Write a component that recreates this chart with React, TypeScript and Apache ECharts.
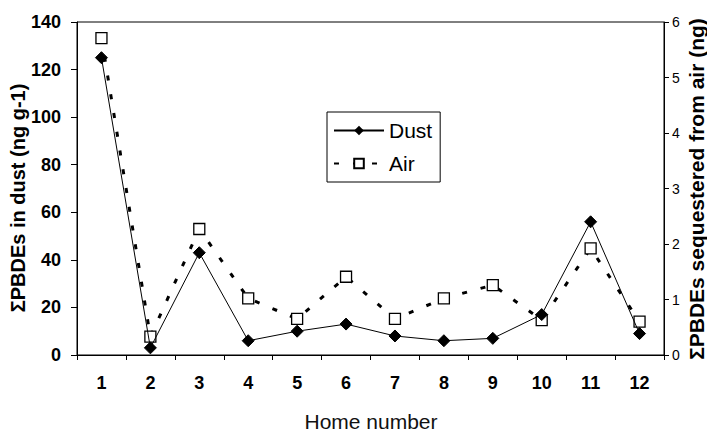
import React, { useEffect, useRef } from "react";
import * as echarts from "echarts";

const homes = ["1", "2", "3", "4", "5", "6", "7", "8", "9", "10", "11", "12"];
const dustValues = [125, 3, 43, 6, 10, 13, 8, 6, 7, 17, 56, 9];
const airValues = [5.71, 0.33, 2.27, 1.02, 0.65, 1.41, 0.65, 1.02, 1.26, 0.63, 1.92, 0.6];
const leftAxisRange = { min: 0, max: 140, interval: 20 };
const rightAxisRange = { min: 0, max: 6, interval: 1 };
const xTitle = "Home number";
const leftTitle = "ΣPBDEs in dust (ng g-1)";
const rightTitle = "ΣPBDEs sequestered from air (ng)";

const FONT = "'Liberation Sans', Arial, sans-serif";

export default function App() {
  const ref = useRef<HTMLDivElement>(null);
  useEffect(() => {
    if (!ref.current) return;
    const chart = echarts.init(ref.current, undefined, { renderer: "svg" });
    chart.setOption({
      animation: false,
      backgroundColor: "#ffffff",
      textStyle: { fontFamily: FONT, color: "#000" },
      grid: {
        left: 77,
        right: 43,
        top: 22,
        bottom: 77,
        show: true,
        borderColor: "#000",
        borderWidth: 1,
        backgroundColor: "transparent",
      },
      legend: {
        orient: "vertical",
        left: 327,
        top: 112,
        padding: [8, 8, 8, 6],
        borderColor: "#000",
        borderWidth: 1,
        backgroundColor: "#fff",
        itemWidth: 50,
        itemHeight: 12,
        itemGap: 12,
        textStyle: { fontFamily: FONT, fontSize: 21, color: "#000", lineHeight: 20 },
        data: ["Dust", "Air"],
      },
      xAxis: {
        type: "category",
        data: homes,
        boundaryGap: true,
        axisLine: { lineStyle: { color: "#000", width: 1 } },
        axisTick: { show: true, length: 5, lineStyle: { color: "#000" } },
        axisLabel: {
          fontFamily: FONT,
          fontSize: 18,
          fontWeight: "bold",
          color: "#000",
          margin: 19,
        },
        splitLine: { show: false },
      },
      yAxis: [
        {
          type: "value",
          min: leftAxisRange.min,
          max: leftAxisRange.max,
          interval: leftAxisRange.interval,
          axisLine: { show: true, lineStyle: { color: "#000", width: 1 } },
          axisTick: { show: true, length: 6, lineStyle: { color: "#000" } },
          axisLabel: {
            fontFamily: FONT,
            fontSize: 18,
            fontWeight: "bold",
            color: "#000",
            margin: 16,
          },
          splitLine: { show: false },
        },
        {
          type: "value",
          position: "right",
          min: rightAxisRange.min,
          max: rightAxisRange.max,
          interval: rightAxisRange.interval,
          axisLine: { show: true, lineStyle: { color: "#000", width: 1 } },
          axisTick: { show: true, length: 5, lineStyle: { color: "#000" } },
          axisLabel: {
            fontFamily: FONT,
            fontSize: 14,
            color: "#000",
            margin: 8,
          },
          splitLine: { show: false },
        },
      ],
      series: [
        {
          name: "Dust",
          type: "line",
          yAxisIndex: 0,
          data: dustValues,
          symbol: "diamond",
          symbolSize: 12,
          lineStyle: { color: "#000", width: 1 },
          itemStyle: { color: "#000", borderColor: "#000" },
          z: 3,
        },
        {
          name: "Air",
          type: "line",
          yAxisIndex: 1,
          data: airValues,
          symbol: "rect",
          symbolSize: 11,
          lineStyle: { color: "#000", width: 3, type: [5, 14] },
          itemStyle: { color: "#fff", borderColor: "#000", borderWidth: 1.3 },
          z: 2,
        },
      ],
      graphic: [
        {
          type: "text",
          x: 18,
          y: 198,
          rotation: Math.PI / 2,
          style: {
            text: leftTitle,
            font: `bold 20px ${FONT}`,
            fill: "#000",
            textAlign: "center",
            textVerticalAlign: "middle",
          },
        },
        {
          type: "text",
          x: 696,
          y: 189,
          rotation: Math.PI / 2,
          style: {
            text: rightTitle,
            font: `bold 21px ${FONT}`,
            fill: "#000",
            textAlign: "center",
            textVerticalAlign: "middle",
          },
        },
        {
          type: "text",
          x: 371,
          y: 421,
          style: {
            text: xTitle,
            font: `21px ${FONT}`,
            fill: "#111",
            textAlign: "center",
            textVerticalAlign: "middle",
          },
        },
      ],
    });
    return () => chart.dispose();
  }, []);
  return (
    <div
      ref={ref}
      style={{ position: "fixed", left: 0, top: 0, width: 707, height: 432 }}
    />
  );
}
